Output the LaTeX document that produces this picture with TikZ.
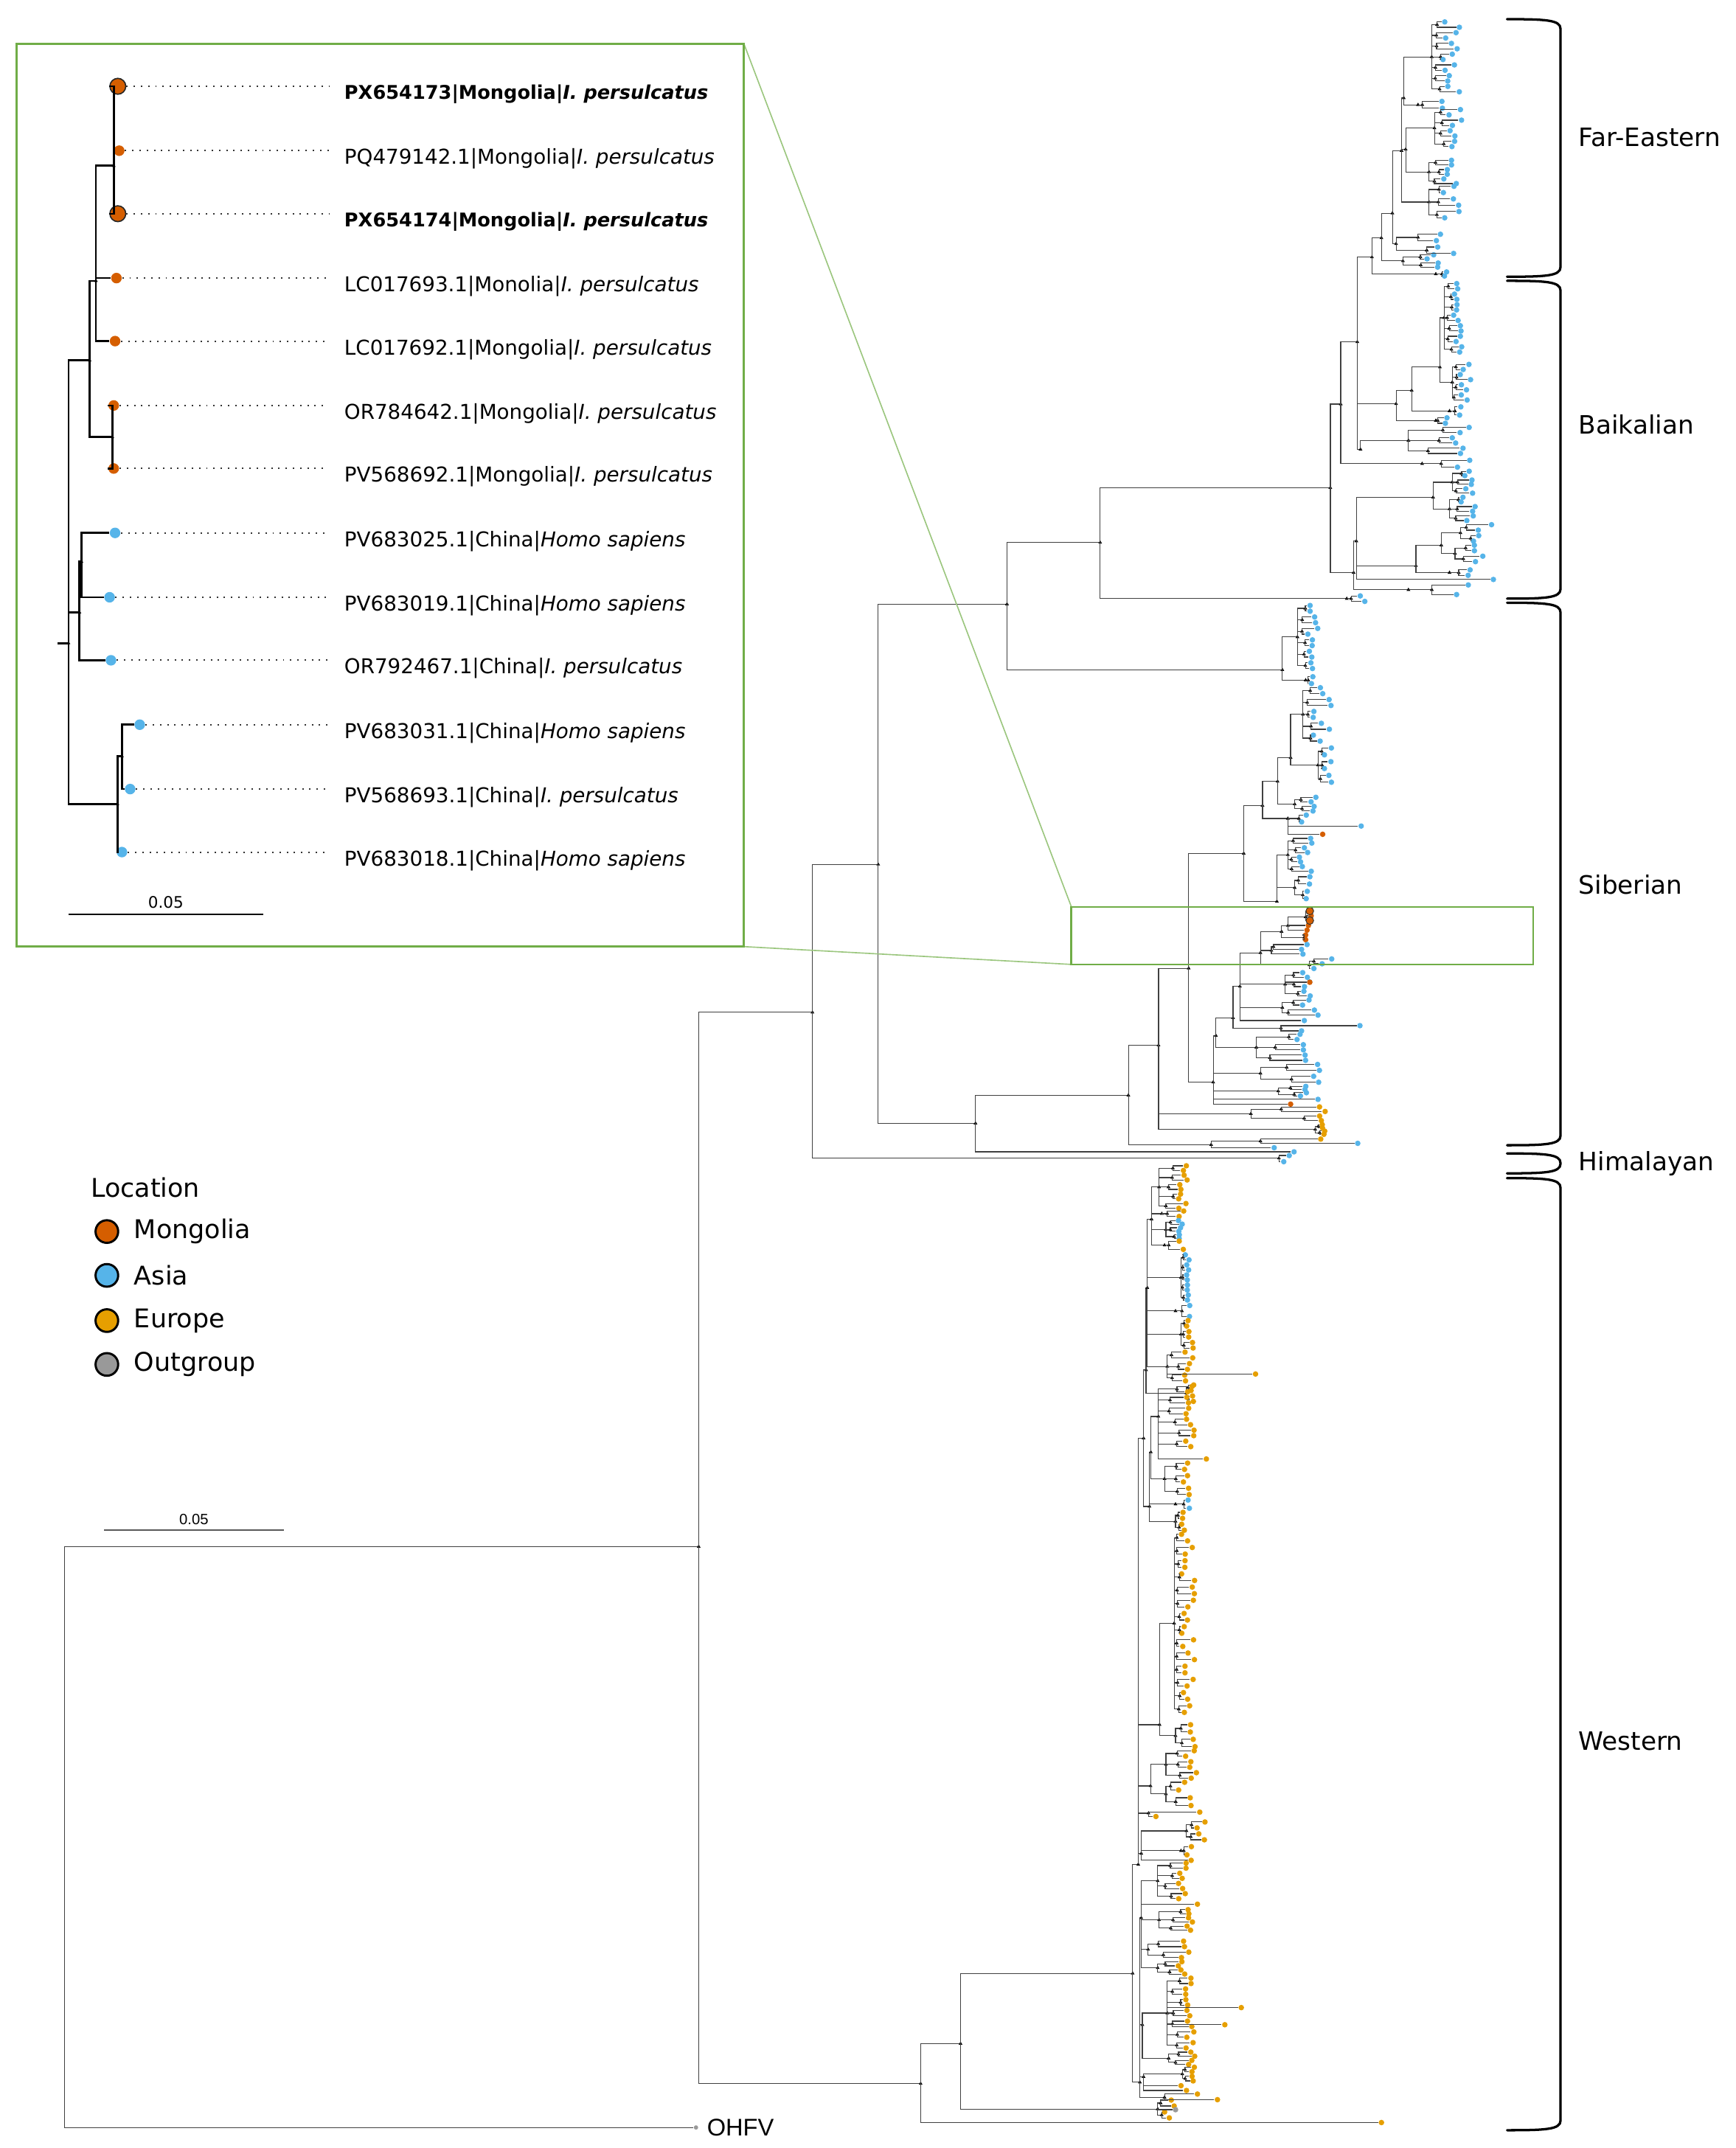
\documentclass[tikz,border=0pt]{standalone}
\usepackage{fontspec}
\setmainfont{DejaVu Sans}
\newfontfamily\arialfont{Liberation Sans}
\usetikzlibrary{positioning, shapes.geometric}

\definecolor{mong}{HTML}{D55E00}
\definecolor{asia}{HTML}{56B4E9}
\definecolor{europe}{HTML}{E69F00}
\definecolor{outg}{HTML}{999999}
\definecolor{zoomgreen}{HTML}{70AD47}

\tikzset{
  branch/.style={draw=black!75, line width=0.35pt},
  zbranch/.style={draw=black, line width=0.8pt},
  nodemark/.style={regular polygon, regular polygon sides=3, fill=black, inner sep=0pt, minimum size=1.8pt},
  tip/.style={circle, fill=#1, inner sep=0pt, minimum size=2.3pt},
  bigtip/.style={circle, fill=#1, draw=black!80, line width=0.3pt, inner sep=0pt, minimum size=3.2pt},
  ztip/.style={circle, fill=#1, inner sep=0pt, minimum size=4.4pt},
  zbigtip/.style={circle, fill=#1, draw=black!85, line width=0.5pt, inner sep=0pt, minimum size=6.6pt},
  leader/.style={draw=black!80, line width=0.6pt, dash pattern=on 0.6pt off 2.4pt},
  zlab/.style={anchor=west, inner sep=0pt, font=\fontsize{8.5}{10}\selectfont},
  cladelab/.style={anchor=west, inner sep=0pt, font=\fontsize{10.5}{12.6}\selectfont},
  cbrace/.style={draw=black, line width=1pt, line cap=round},
  legdot/.style={circle, fill=#1, draw=black, line width=0.9pt, inner sep=0pt, minimum size=9.4pt},
  legtext/.style={inner sep=0pt, font=\fontsize{10.7}{12.8}\selectfont},
  zoomframe/.style={draw=zoomgreen, line width=0.8pt},
  zoomlink/.style={draw=zoomgreen!70, line width=0.5pt},
  scalebar/.style={draw=black!65, line width=0.5pt}
}

% internal node, tip, and a clade of paired tips
\newcommand{\inode}[4]{%
  \coordinate (#2) at (#3,#4);
  \draw[branch] (#1) |- (#2);
  \node[nodemark] at (#2) {};
}
\newcommand{\tipat}[5]{%
  \node[tip=#5] (#2) at (#3,#4) {};
  \draw[branch] (#1) |- (#2);
}
\newcommand{\grp}[9]{%
  \coordinate (#2) at (#3,{(#4+#5)/2});
  \draw[branch] (#1) |- (#2);
  \node[nodemark] at (#2) {};
  \pgfmathsetmacro\gstep{(#5-#4)/max(2*#6-1,1)}
  \foreach \k in {1,...,#6}{
    \pgfmathsetmacro\gya{#4+(2*\k-2)*\gstep}
    \pgfmathsetmacro\gyb{#4+(2*\k-1)*\gstep}
    \pgfmathsetmacro\gsx{#3+(0.3+0.55*rnd)*(#7-#3)}
    \pgfmathsetmacro\gxa{#7+rnd*#8}
    \pgfmathsetmacro\gxb{#7+rnd*#8}
    \coordinate (#2-\k) at (\gsx,{(\gya+\gyb)/2});
    \draw[branch] (#2) |- (#2-\k);
    \node[nodemark] at (#2-\k) {};
    \node[tip=#9] (#2-\k-a) at (\gxa,\gya) {};
    \node[tip=#9] (#2-\k-b) at (\gxb,\gyb) {};
    \draw[branch] (#2-\k) |- (#2-\k-a);
    \draw[branch] (#2-\k) |- (#2-\k-b);
  }
}
% the zoomed Mongolian sub-tree (drawn in the inset and in the main tree)
\newcommand{\minitree}[4]{%
  \coordinate (#1-stub) at (42,469.5);
  \coordinate (#1-r) at (50,469.5);
  \draw[#2] (#1-stub) -- (#1-r);
  \node[nodemark] at (#1-r) {};
  \foreach \n/\p/\x/\y in {a/r/65.4/263, b/a/70/205, d/b/83/121, c/a/82/319,
      e/r/58/447, f/e/59.5/410, g/r/85.7/587, h/g/89/552}{
    \coordinate (#1-\n) at (\x,\y);
    \draw[#2] (#1-\p) |- (#1-\n);
    \node[nodemark] at (#1-\n) {};
  }
  \foreach \n/\p/\x/\y/\c in {2/d/87/110/mong, 4/b/85/203/mong, 5/b/84/249/mong,
      6/c/83/296/mong, 7/c/83/342/mong, 8/f/84/389/asia, 9/f/80/436/asia,
      10/e/81/482/asia, 11/h/102/529/asia, 12/h/95/576/asia, 13/g/89/622/asia}{
    \node[#3=\c] (#1-t\n) at (\x,\y) {};
    \draw[#2] (#1-\p) |- (#1-t\n);
  }
  \foreach \n/\y in {1/63, 3/156}{
    \node[#4=mong] (#1-t\n) at (86,\y) {};
    \draw[#2] (#1-d) |- (#1-t\n);
  }
}
\newcommand{\boldlab}[1]{{\fontsize{7.85}{10}\selectfont\textbf{#1}}}

\begin{document}
\begin{tikzpicture}[x=0.02cm, y=-0.02cm]
\useasboundingbox (0,0) rectangle (1267,1568);
\pgfmathsetseed{2718}

% backbone
\coordinate (root) at (47,1341.5);
\inode{root}{n510}{510}{1129}
\node[tip=outg, minimum size=1.8pt] (ohfv) at (508,1553) {};
\draw[branch] (root) |- (ohfv);
\node[inner sep=0pt, right=3.3pt of ohfv, font=\arialfont\fontsize{10}{12}\selectfont] {OHFV};
\inode{n510}{n593}{593}{739}
\inode{n510}{nw}{672}{1521}
\inode{n593}{n640}{641}{631}
\inode{n593}{him}{933.5}{845.5}
\tipat{him}{him1}{941}{843.5}{asia}
\tipat{him}{him2}{937}{848}{asia}
\inode{n640}{n735}{735}{441}
\inode{n640}{n712}{712}{820}
\inode{n735}{n803}{803}{396}
\inode{n735}{s1}{936}{489}
\inode{n803}{n971}{971}{356}
\grp{n803}{g803}{983}{435}{439}{1}{990}{10}{asia}
\inode{n971}{n979}{978.6}{295}
\inode{n971}{b2}{988}{418}
\inode{n979}{nfe}{990.7}{249.6}
\grp{n979}{gb3}{1038}{336}{341}{1}{1062}{12}{asia}
\inode{nfe}{fec}{1001.4}{187.7}
\inode{nfe}{ba}{1019}{294.8}
\inode{nfe}{bb}{993}{328}

% Far-Eastern
\inode{fec}{f1}{1008.3}{173.7}
\grp{fec}{gf0}{1048}{198.5}{201.5}{1}{1054}{3}{asia}
\inode{f1}{f2}{1016.3}{155.6}
\grp{f1}{gf1}{1024}{186}{195}{2}{1040}{10}{asia}
\inode{f2}{f3}{1023}{110}
\grp{f2}{gf2}{1019}{171}{185}{2}{1048}{14}{asia}
\inode{f3}{f4}{1024.6}{71.5}
\inode{f3}{f5}{1026}{109}
\grp{f3}{gf3}{1043}{136}{159}{3}{1052}{16}{asia}
\grp{f4}{gf4a}{1045}{16}{67}{7}{1053}{14}{asia}
\grp{f4}{gf4b}{1035}{74}{79}{1}{1045}{8}{asia}
\grp{f5}{gf5a}{1047}{80}{107}{4}{1056}{14}{asia}
\grp{f5}{gf5b}{1043}{117}{134}{3}{1052}{16}{asia}

% Baikalian
\inode{ba}{ba1}{1030.4}{285}
\inode{ba1}{ba2}{1051}{268}
\grp{ba2}{gba}{1054}{207}{257}{7}{1061}{6}{asia}
\grp{ba2}{gbb}{1060}{266}{292}{4}{1064}{10}{asia}
\grp{ba1}{gbc}{1058}{297}{303}{1}{1064}{10}{asia}
\grp{ba}{gbd}{1048}{305}{309}{1}{1052}{5}{asia}
\grp{bb}{gbe}{1028}{312}{331}{3}{1060}{14}{asia}
\inode{b2}{b3}{990}{395}
\inode{b3}{b4}{1046}{363}
\grp{b4}{gbf}{1060}{344}{360}{3}{1068}{12}{asia}
\grp{b4}{gbg}{1058}{363}{380}{3}{1066}{12}{asia}
\inode{b3}{b5}{1033.5}{413}
\inode{b5}{b6}{1052}{398}
\grp{b6}{gbh}{1066}{383}{395}{2}{1075}{14}{asia}
\grp{b6}{gbi}{1062}{398}{410}{2}{1072}{12}{asia}
\grp{b5}{gbj}{1058}{416}{420}{1}{1066}{8}{asia}
\tipat{b3}{tb3}{1090}{423}{asia}
\grp{b2}{gbk}{1028}{427}{434}{1}{1060}{14}{asia}

% Siberian
\grp{s1}{gs1a}{947}{442}{488}{6}{954}{8}{asia}
\grp{s1}{gs1b}{953}{494}{499}{1}{957}{3}{asia}
\inode{n712}{n824}{823.6}{799.5}
\tipat{n712}{t712}{944.5}{840.8}{asia}
\inode{n824}{n846}{845.6}{763}
\inode{n824}{n884}{884}{835.6}
\inode{n884}{n884s}{920}{833}
\tipat{n884s}{t884a}{964}{831.5}{europe}
\tipat{n884s}{t884b}{991}{834.6}{asia}
\tipat{n884}{t884c}{930}{837.8}{asia}
\inode{n846}{n868}{867.6}{706.8}
\grp{n846}{gse1}{913}{808}{818}{2}{963}{16}{europe}
\grp{n846}{gse2}{960}{821}{828}{2}{964}{4}{europe}
\inode{n868}{n908}{907.8}{623}
\inode{n868}{lb}{885.5}{790}
\inode{n908}{n921}{921.5}{588}
\inode{n908}{n932}{932}{658}
\inode{n921}{n932b}{932.5}{570.4}
\grp{n921}{gs2}{940}{595}{600}{1}{950}{6}{asia}
\tipat{gs2}{ts2l}{993.5}{603}{asia}
\tipat{gs2}{ts2o}{965.4}{609}{mong}
\inode{n932b}{n942}{942}{553}
\grp{n932b}{gs3}{945}{582}{592}{2}{956}{6}{asia}
\grp{n942}{gs4}{951}{502}{541}{5}{958}{14}{asia}
\grp{n942}{gs5}{962}{546}{571}{3}{966}{10}{asia}
\grp{n932}{gs6}{940}{612}{636}{4}{948}{10}{asia}
\grp{n932}{gs7}{945}{640}{656}{2}{952}{6}{asia}
\inode{lb}{lu}{887.5}{756}
\grp{lb}{gl1}{920}{777}{790}{2}{958}{6}{asia}
\grp{lb}{gl2}{933}{793}{800}{2}{947}{8}{asia}
\tipat{lb}{tl3}{962}{802.5}{asia}
\tipat{lb}{tl4}{942}{806}{mong}
\inode{lu}{lu2}{900}{743}
\grp{lu}{gl3}{917}{755}{774}{3}{946}{9}{asia}
\inode{lu2}{lv}{905}{720}
\inode{lu2}{gl4}{935}{750.5}
\tipat{gl4}{tl4a}{992.6}{748.7}{asia}
\tipat{gl4}{tl4b}{950}{752.5}{asia}
\grp{lv}{gl5}{938}{710}{727}{3}{950}{10}{asia}
\tipat{gl5}{tl5o}{956}{717}{mong}
\grp{lv}{gl6}{936}{730}{741}{2}{950}{12}{asia}
\tipat{lv}{tl7}{952}{745}{asia}
\begin{scope}[shift={(870,660.27)}, yscale=0.0751]
  \minitree{m}{branch}{tip}{bigtip}
\end{scope}
\draw[branch] (lv) |- (m-stub);

% Western
\inode{nw}{w2}{701.1}{1491.8}
\tipat{nw}{tnw}{1008.3}{1549.4}{europe}
\inode{w2}{w3}{826.7}{1440.5}
\grp{w2}{gw0}{845}{1533}{1546}{2}{850}{8}{europe}
\tipat{gw0}{tw0g}{858}{1540}{outg}
\inode{w3}{w4}{830.8}{1361}
\inode{w3}{w5}{832}{1520}
\inode{w4}{w6}{834.7}{1049.9}
\inode{w4}{wl1}{846.4}{1259}
\grp{wl1}{gwa}{857}{1120}{1250}{14}{862}{10}{europe}
\grp{wl1}{gwb}{858}{1259}{1275}{2}{866}{8}{europe}
\inode{w4}{wl2}{839.8}{1303.7}
\grp{wl2}{gwc}{851}{1278}{1298}{3}{865}{10}{europe}
\grp{wl2}{gwd}{851}{1301}{1318}{2}{860}{10}{europe}
\inode{w4}{wl3}{838.3}{1323.6}
\tipat{wl3}{twl3a}{843.7}{1326}{europe}
\tipat{wl3}{twl3b}{875.7}{1322.8}{europe}
\inode{w4}{wl4}{833}{1353}
\grp{wl4}{gwe}{866}{1330}{1343}{2}{872}{8}{europe}
\grp{wl4}{gwf}{862}{1348}{1354}{1}{866}{6}{europe}
\tipat{wl4}{twg}{869.4}{1358}{europe}
\inode{w6}{w7}{836.5}{1000}
\inode{w6}{w8}{839}{1099.7}
\inode{w7}{w9}{837.4}{940}
\grp{w7}{gw7a}{866}{1011}{1023}{2}{869}{4}{europe}
\inode{w9}{w10}{840.5}{890}
\grp{w9}{gw9b}{862}{916}{949}{5}{865}{3}{asia}
\grp{w9}{gw9c}{858}{953}{961}{1}{864}{6}{asia}
\grp{w9}{gw9d}{862}{964}{984}{3}{866}{5}{europe}
\grp{w9}{gw9e}{852}{987}{1008}{3}{862}{10}{europe}
\tipat{gw9e}{tw9l}{916.4}{1003}{europe}
\grp{w10}{gw10a}{846}{851}{882}{5}{860}{8}{europe}
\grp{w10}{gw10b}{848}{884}{888}{1}{858}{6}{europe}
\grp{w10}{gw10c}{851}{891}{904}{3}{860}{3}{asia}
\grp{w10}{gw10d}{850}{906}{912}{1}{860}{4}{europe}
\inode{w8}{w12}{840}{1060}
\grp{w8}{gw8b}{858}{1095}{1101}{1}{866}{3}{asia}
\grp{w8}{gw8c}{858}{1104}{1117}{2}{862}{6}{europe}
\grp{w12}{gw12a}{845.5}{1012}{1056}{6}{865}{8}{europe}
\tipat{gw12a}{tw12l}{880.5}{1065}{europe}
\grp{w12}{gw12b}{850}{1068}{1091}{3}{863}{6}{europe}
\inode{w5}{w13}{833}{1400}
\inode{w5}{w14}{833.8}{1478}
\inode{w5}{w15}{834.7}{1516}
\inode{w5}{w16}{850}{1531}
\grp{w13}{gw13a}{845}{1360}{1386}{4}{860}{6}{europe}
\tipat{w13}{tw13b}{874}{1390}{europe}
\grp{w13}{gw13c}{846}{1394}{1409}{3}{866}{6}{europe}
\grp{w13}{gw13d}{838}{1417}{1429}{2}{862}{8}{europe}
\grp{w13}{gw13e}{845}{1432}{1441}{2}{860}{6}{europe}
\grp{w14}{gw14a}{852}{1444}{1495}{7}{864}{8}{europe}
\tipat{gw14a}{tw14l1}{906}{1465.5}{europe}
\tipat{gw14a}{tw14l2}{894}{1478}{europe}
\grp{w14}{gw14b}{853}{1498}{1507}{2}{865}{8}{europe}
\grp{w15}{gw15a}{863}{1509}{1519}{2}{867}{5}{europe}
\tipat{w15}{tw15b}{862}{1522.5}{europe}
\tipat{w15}{tw15c}{866}{1526}{europe}
\tipat{w16}{tw16a}{874}{1528.6}{europe}
\tipat{w16}{tw16b}{888.6}{1532.7}{europe}

% main scale bar
\coordinate (sbl) at (76,1117);
\coordinate (sbr) at (207,1117);
\draw[scalebar] (sbl) -- (sbr) node[midway, above=2pt, inner sep=0pt, font=\arialfont\fontsize{6.2}{7}\selectfont] {0.05};

% clade braces
\newcommand{\cladebrace}[4]{%
  \draw[cbrace] (1100,#1) .. controls (1128,#1) and (1139,#1+0.5) .. (1139,#1+7)
    -- (1139,#2-7) .. controls (1139,#2-0.5) and (1128,#2) .. (1100,#2);
  \node[cladelab] at (1152,#3) {#4};
}
\cladebrace{14}{202}{100}{Far-Eastern}
\cladebrace{205}{437}{310}{Baikalian}
\cladebrace{440}{836}{646}{Siberian}
\cladebrace{842}{856.5}{849.5}{Himalayan}
\cladebrace{860}{1555}{1271}{Western}

% zoom box and inset
\coordinate (zbtl) at (782,662);
\coordinate (zbbr) at (1119,704);
\coordinate (zbbl) at (782,704);
\coordinate (intl) at (12,32);
\coordinate (intr) at (543,32);
\coordinate (inbr) at (543,691);
\draw[zoomlink] (intr) -- (zbtl);
\draw[zoomlink] (inbr) -- (zbbl);
\draw[zoomframe] (zbtl) rectangle (zbbr);
\draw[zoomframe] (intl) rectangle (inbr);
\minitree{z}{zbranch}{ztip}{zbigtip}
\foreach \n/\y/\txt in {
    1/63/{\boldlab{PX654173|Mongolia|\textit{I. persulcatus}}},
    2/110/{PQ479142.1|Mongolia|\textit{I. persulcatus}},
    3/156/{\boldlab{PX654174|Mongolia|\textit{I. persulcatus}}},
    4/203/{LC017693.1|Monolia|\textit{I. persulcatus}},
    5/249/{LC017692.1|Mongolia|\textit{I. persulcatus}},
    6/296/{OR784642.1|Mongolia|\textit{I. persulcatus}},
    7/342/{PV568692.1|Mongolia|\textit{I. persulcatus}},
    8/389/{PV683025.1|China|\textit{Homo sapiens}},
    9/436/{PV683019.1|China|\textit{Homo sapiens}},
    10/482/{OR792467.1|China|\textit{I. persulcatus}},
    11/529/{PV683031.1|China|\textit{Homo sapiens}},
    12/576/{PV568693.1|China|\textit{I. persulcatus}},
    13/622/{PV683018.1|China|\textit{Homo sapiens}}}{
  \coordinate (z-l\n) at (240,\y);
  \draw[leader] (z-t\n) -- (z-l\n);
  \node[zlab] (z-lab\n) at (251,\y+6) {\txt};
}
\coordinate (zsl) at (50,667.5);
\coordinate (zsr) at (192,667.5);
\draw[draw=black, line width=0.6pt] (zsl) -- (zsr) node[midway, above=2.3pt, inner sep=0pt, font=\fontsize{6.6}{8}\selectfont] {0.05};

% legend
\node[legtext, anchor=west] (loc) at (66,867) {Location};
\foreach \c/\t/\y in {mong/Mongolia/899, asia/Asia/931, europe/Europe/964, outg/Outgroup/996}{
  \node[legdot=\c] (leg-\t) at (78,\y) {};
  \node[legtext, right=6pt of leg-\t] {\t};
}
\end{tikzpicture}
\end{document}
